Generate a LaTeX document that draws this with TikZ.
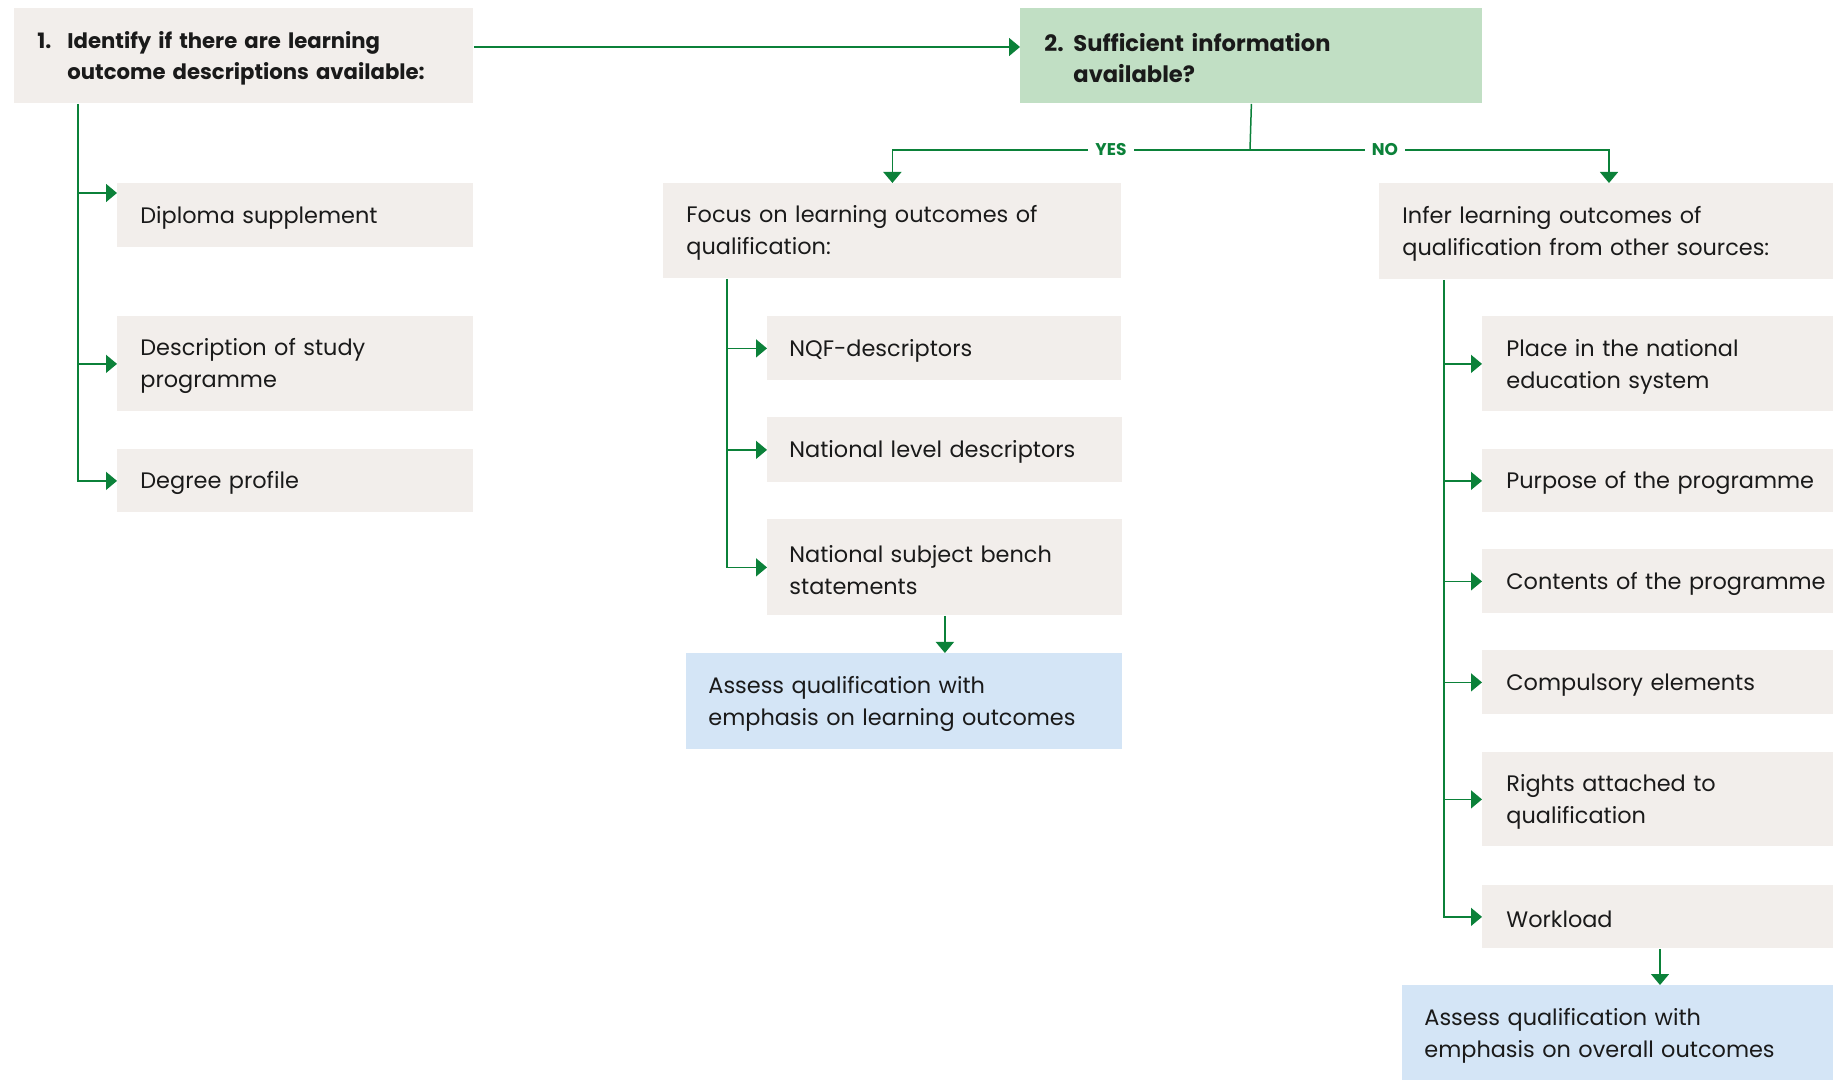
\documentclass[tikz,border=0pt]{standalone}
\usepackage{fontspec}
\setmainfont{Poppins}
\usetikzlibrary{arrows.meta,calc}
\definecolor{boxgray}{HTML}{F2EEEB}
\definecolor{boxgreen}{HTML}{C1DFC4}
\definecolor{boxblue}{HTML}{D4E5F6}
\definecolor{linegreen}{HTML}{0B8139}
\definecolor{ink}{HTML}{1A1A1A}
\tikzset{
  base/.style={anchor=north west, inner xsep=11.5pt, inner ysep=0pt, align=left,
    text=ink, font=\fontsize{11.2}{16}\selectfont,
    execute at begin node={\hyphenpenalty=10000\rule{0pt}{11pt}}},
  gbox/.style={base, fill=boxgray},
  hbox/.style={base, fill=boxgreen, font=\fontsize{11.3}{15.75}\selectfont\bfseries},
  tbox/.style={gbox, font=\fontsize{10.6}{15.75}\selectfont\bfseries},
  bbox/.style={base, fill=boxblue},
  link/.style={draw=linegreen, line width=0.75pt},
  arr/.style={link, -{Triangle[length=5.5pt,width=9pt]}},
  answer/.style={fill=white, text=linegreen, inner xsep=3.5pt, inner ysep=2pt,
    font=\fontsize{8.5}{10}\selectfont\bfseries}
}
\begin{document}
\begin{tikzpicture}[x=0.5pt,y=-0.5pt]
\useasboundingbox (0,0) rectangle (1833,1080);
\clip (0,0) rectangle (1833,1080);
\fill[white] (0,0) rectangle (1833,1080);

% step boxes
\node[tbox, text width=206.5pt, minimum height=47.5pt] (b1) at (14,8)
  {\makebox[15pt][l]{1.}Identify if there are learning\\\hspace*{15pt}outcome descriptions available:};
\node[hbox, text width=207pt, minimum height=47.5pt, inner xsep=12pt] (b2) at (1020,8)
  {\makebox[14.5pt][l]{2.}Sufficient information\\\hspace*{14.5pt}available?};

% left column
\node[gbox, text width=155pt, minimum height=32pt] (dip) at (117,183) {Diploma supplement};
\node[gbox, text width=155pt, minimum height=47.5pt] (desc) at (117,316) {Description of study\\programme};
\node[gbox, text width=155pt, minimum height=31.5pt] (deg) at (117,449) {Degree profile};

% middle column
\node[gbox, text width=206pt, minimum height=47.5pt] (focus) at (663,183) {Focus on learning outcomes of\\qualification:};
\node[gbox, text width=155pt, minimum height=32pt, inner xsep=11pt] (nqf) at (767,316) {NQF-descriptors};
\node[gbox, text width=155.5pt, minimum height=32.5pt, inner xsep=11pt] (nlev) at (767,417) {National level descriptors};
\node[gbox, text width=155.5pt, minimum height=48pt, inner xsep=11pt] (nsub) at (767,519) {National subject bench\\statements};
\node[bbox, text width=196pt, minimum height=48pt, inner xsep=11pt] (assl) at (686,653) {Assess qualification with\\emphasis on learning outcomes};

% right column
\node[gbox, text width=212pt, minimum height=48pt] (infer) at (1379,183) {Infer learning outcomes of\\qualification from other sources:};
\node[gbox, text width=160pt, minimum height=47.5pt, inner xsep=12pt] (place) at (1482,316) {Place in the national\\education system};
\node[gbox, text width=160pt, minimum height=31.5pt, inner xsep=12pt] (purp) at (1482,449) {Purpose of the programme};
\node[gbox, text width=160pt, minimum height=32pt, inner xsep=12pt] (cont) at (1482,549) {Contents of the programme};
\node[gbox, text width=160pt, minimum height=32pt, inner xsep=12pt] (comp) at (1482,650) {Compulsory elements};
\node[gbox, text width=160pt, minimum height=47pt, inner xsep=12pt] (rights) at (1482,752) {Rights attached to\\qualification};
\node[gbox, text width=160pt, minimum height=31.5pt, inner xsep=12pt] (work) at (1482,885) {Workload};
\node[bbox, text width=202pt, minimum height=48pt, inner xsep=11pt] (asso) at (1402,985) {Assess qualification with\\emphasis on overall outcomes};

% spine positions and arrow ends
\coordinate (lsp) at (78,0);
\coordinate (msp) at (727,0);
\coordinate (rsp) at (1444,0);
\coordinate (split) at (1250,150);
\coordinate (dipin) at ($(dip.north west)+(0,10)$);
\coordinate (infin) at ($(infer.north west)+(230,0)$);
\coordinate (workout) at ($(work.south west)+(178,0)$);

% step 1 to step 2
\draw[arr] ($(b1.north east)+(0,39)$) -- ($(b2.north west)+(0,39)$);

% decision branches
\draw[link] (b2.south) -- (split);
\draw[arr] (split) -| (focus.north);
\draw[arr] (split) -| (infin);
\node[answer] (yes) at (1111,150) {YES};
\node[answer] (no) at (1385,150) {NO};

% left spine
\draw[arr] (b1.south -| lsp) |- (deg.west);
\draw[arr] (lsp |- dipin) -- (dipin);
\draw[arr] (lsp |- desc.west) -- (desc.west);

% middle spine
\draw[arr] (focus.south -| msp) |- (nsub.west);
\draw[arr] (msp |- nqf.west) -- (nqf.west);
\draw[arr] (msp |- nlev.west) -- (nlev.west);
\draw[arr] (nsub.south) -- (nsub.south |- assl.north);

% right spine
\draw[arr] (infer.south -| rsp) |- (work.west);
\draw[arr] (rsp |- place.west) -- (place.west);
\draw[arr] (rsp |- purp.west) -- (purp.west);
\draw[arr] (rsp |- cont.west) -- (cont.west);
\draw[arr] (rsp |- comp.west) -- (comp.west);
\draw[arr] (rsp |- rights.west) -- (rights.west);
\draw[arr] (workout) -- (workout |- asso.north);
\end{tikzpicture}
\end{document}
